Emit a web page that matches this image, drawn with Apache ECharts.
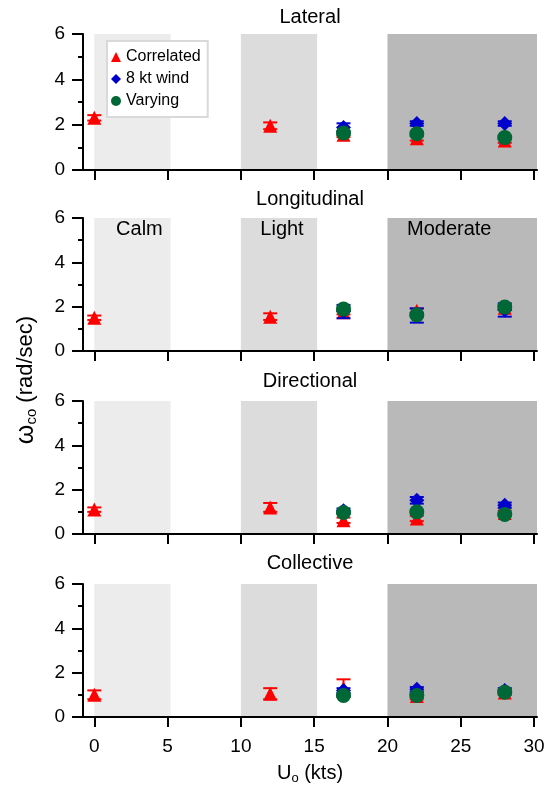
<!DOCTYPE html>
<html><head><meta charset="utf-8">
<script src="https://cdn.jsdelivr.net/npm/echarts@6/dist/echarts.min.js"></script>
<style>html,body{margin:0;padding:0;background:#fff}#c{width:552px;height:788px}</style>
</head><body><div id="c"></div>
<script>
// ---- data ----
const panelTitles = ['Lateral', 'Longitudinal', 'Directional', 'Collective'];
const xCorrelated = [0, 12, 17, 22, 28];
const xWind = [17, 22, 28];
const xTicks = [0, 5, 10, 15, 20, 25, 30];
const regionNames = ['Calm', 'Light', 'Moderate'];
const regionStart = [0, 10, 20];
const regionEnd = [5.2, 15.2, 30.25];

const lateralCorrelated = [2.3, 1.95, 1.55, 1.4, 1.3];
const lateralCorrelatedErr = [0.12, 0.15, 0.1, 0.1, 0.1];
const lateralWind = [1.88, 2.05, 2.05];
const lateralWindErr = [0.18, 0.1, 0.1];
const lateralVarying = [1.63, 1.6, 1.43];
const lateralVaryingErr = [0.08, 0.08, 0.08];

const longitudinalCorrelated = [1.5, 1.55, 1.75, 1.82, 1.95];
const longitudinalCorrelatedErr = [0.1, 0.15, 0.1, 0.1, 0.1];
const longitudinalWind = [1.78, 1.6, 1.85];
const longitudinalWindErr = [0.3, 0.32, 0.3];
const longitudinalVarying = [1.89, 1.63, 1.98];
const longitudinalVaryingErr = [0.08, 0.08, 0.08];

const directionalCorrelated = [1.1, 1.2, 0.62, 0.7, 0.95];
const directionalCorrelatedErr = [0.1, 0.2, 0.12, 0.12, 0.1];
const directionalWind = [1.05, 1.52, 1.3];
const directionalWindErr = [0.1, 0.15, 0.12];
const directionalVarying = [0.97, 1.0, 0.88];
const directionalVaryingErr = [0.06, 0.06, 0.06];

const collectiveCorrelated = [1.0, 1.05, 1.3, 0.95, 1.1];
const collectiveCorrelatedErr = [0.2, 0.25, 0.4, 0.15, 0.1];
const collectiveWind = [1.2, 1.25, 1.2];
const collectiveWindErr = [0.1, 0.1, 0.1];
const collectiveVarying = [0.97, 0.97, 1.12];
const collectiveVaryingErr = [0.06, 0.06, 0.06];

const correlatedSets = [lateralCorrelated, longitudinalCorrelated, directionalCorrelated, collectiveCorrelated];
const correlatedErrSets = [lateralCorrelatedErr, longitudinalCorrelatedErr, directionalCorrelatedErr, collectiveCorrelatedErr];
const windSets = [lateralWind, longitudinalWind, directionalWind, collectiveWind];
const windErrSets = [lateralWindErr, longitudinalWindErr, directionalWindErr, collectiveWindErr];
const varyingSets = [lateralVarying, longitudinalVarying, directionalVarying, collectiveVarying];
const varyingErrSets = [lateralVaryingErr, longitudinalVaryingErr, directionalVaryingErr, collectiveVaryingErr];

// ---- layout / style ----
const FONT = 'Liberation Sans, Arial, Helvetica, sans-serif';
const gridTops = [34, 218, 401, 584];
const gridHeights = [136, 133, 133, 133];
const titleTops = [7, 189, 371, 553];
const regionColors = ['#ececec', '#dcdcdc', '#b9b9b9'];
const regionLabelOffsets = [[7, 0], [3, 0], [-13, 0]];
const RED = '#ff0000', BLUE = '#0000cc', GREEN = '#006837';

function errRenderer(color) {
  return function (params, api) {
    const x = api.value(0), y = api.value(1), e = api.value(2);
    const lo = api.coord([x, y - e]), hi = api.coord([x, y + e]);
    const w = 7;
    const style = { stroke: color, lineWidth: 2 };
    return { type: 'group', children: [
      { type: 'line', shape: { x1: lo[0], y1: lo[1], x2: hi[0], y2: hi[1] }, style },
      { type: 'line', shape: { x1: lo[0] - w, y1: lo[1], x2: lo[0] + w, y2: lo[1] }, style },
      { type: 'line', shape: { x1: hi[0] - w, y1: hi[1], x2: hi[0] + w, y2: hi[1] }, style }
    ] };
  };
}

const grid = [], xAxis = [], yAxis = [], series = [], title = [];
for (let i = 0; i < 4; i++) {
  grid.push({ left: 83, width: 454, top: gridTops[i], height: gridHeights[i] });
  title.push({ text: panelTitles[i], left: 310, top: titleTops[i], textAlign: 'center', padding: 0,
    textStyle: { fontSize: 20, fontWeight: 'normal', color: '#000', fontFamily: FONT } });
  xAxis.push({
    type: 'value', gridIndex: i, min: -0.77, max: 30.2, z: 10,
    axisLine: { show: true, onZero: false, lineStyle: { color: '#000', width: 2 } },
    axisTick: { show: true, customValues: xTicks, length: 10, lineStyle: { color: '#000', width: 2 } },
    axisLabel: { show: i === 3, customValues: xTicks, fontSize: 19, color: '#000', margin: 20, fontFamily: FONT },
    splitLine: { show: false },
    name: i === 3 ? '{a|U}{s|o}{a| (kts)}' : '',
    nameLocation: 'middle', nameGap: 45,
    nameTextStyle: { rich: {
      a: { fontSize: 20, color: '#000', fontFamily: FONT },
      s: { fontSize: 13, color: '#000', fontFamily: FONT, padding: [10, 0, 0, 0] }
    } }
  });
  yAxis.push({
    type: 'value', gridIndex: i, min: 0, max: 6, interval: 2, z: 10,
    axisLine: { show: true, onZero: false, lineStyle: { color: '#000', width: 2 } },
    axisTick: { show: true, length: 11, lineStyle: { color: '#000', width: 2 } },
    minorTick: { show: true, splitNumber: 2, length: 5, lineStyle: { color: '#000', width: 2 } },
    axisLabel: { fontSize: 19, color: '#000', margin: 18, fontFamily: FONT },
    splitLine: { show: false }
  });
  // shaded regions
  series.push({
    type: 'scatter', xAxisIndex: i, yAxisIndex: i, data: [], silent: true, z: 1,
    markArea: {
      silent: true,
      data: regionNames.map((n, k) => [
        { name: n, xAxis: regionStart[k], yAxis: 0, itemStyle: { color: regionColors[k] },
          label: { show: i === 1, position: 'insideTop', distance: 1, offset: regionLabelOffsets[k],
            fontSize: 20, color: '#000', fontFamily: FONT } },
        { xAxis: regionEnd[k], yAxis: 6 }
      ])
    }
  });
  const groups = [
    { name: 'Correlated', xs: xCorrelated, v: correlatedSets[i], e: correlatedErrSets[i], color: RED, symbol: 'triangle', size: 14, z: 3 },
    { name: '8 kt wind', xs: xWind, v: windSets[i], e: windErrSets[i], color: BLUE, symbol: 'diamond', size: 15, z: 5 },
    { name: 'Varying', xs: xWind, v: varyingSets[i], e: varyingErrSets[i], color: GREEN, symbol: 'circle', size: 15, z: 7 }
  ];
  groups.forEach(g => {
    series.push({
      type: 'scatter', name: g.name, xAxisIndex: i, yAxisIndex: i, z: g.z + 1,
      symbol: g.symbol, symbolSize: g.size, itemStyle: { color: g.color, opacity: 1 },
      data: g.xs.map((x, k) => [x, g.v[k]])
    });
    series.push({
      type: 'custom', name: g.name, xAxisIndex: i, yAxisIndex: i, z: g.z,
      itemStyle: { color: g.color },
      renderItem: errRenderer(g.color),
      encode: { x: 0, y: 1 },
      data: g.xs.map((x, k) => [x, g.v[k], g.e[k]])
    });
  });
}

const option = {
  animation: false,
  textStyle: { fontFamily: FONT },
  title, grid, xAxis, yAxis, series,
  legend: {
    orient: 'vertical', left: 107, top: 41, padding: [8, 7, 8, 4], itemGap: 6,
    itemWidth: 10, itemHeight: 10, backgroundColor: '#fff', borderColor: '#d9d9d9', borderWidth: 2,
    selectedMode: false,
    textStyle: { fontSize: 16, color: '#000', fontFamily: FONT },
    data: [
      { name: 'Correlated', icon: 'triangle', itemStyle: { color: RED } },
      { name: '8 kt wind', icon: 'diamond', itemStyle: { color: BLUE } },
      { name: 'Varying', icon: 'circle', itemStyle: { color: GREEN } }
    ]
  },
  graphic: [{
    type: 'text', x: 26, y: 380, rotation: Math.PI / 2,
    style: {
      text: '{w|ω}{s|co}{a| (rad/sec)}', align: 'center', verticalAlign: 'middle',
      rich: {
        w: { fontSize: 25, fill: '#000', fontFamily: FONT },
        s: { fontSize: 15, fill: '#000', fontFamily: FONT, padding: [11, 0, 0, 0] },
        a: { fontSize: 22, fill: '#000', fontFamily: FONT }
      }
    }
  }]
};
const chart = echarts.init(document.getElementById('c'), null, { renderer: 'canvas' });
chart.setOption(option);
</script>
</body></html>
